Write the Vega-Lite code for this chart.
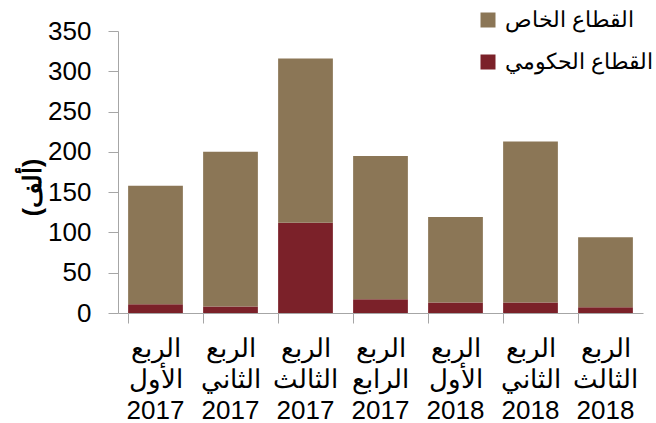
{
  "$schema": "https://vega.github.io/schema/vega-lite/v6.json",
  "autosize": "none",
  "width": 525,
  "height": 282,
  "padding": {"left": 118, "top": 31, "right": 13, "bottom": 110},
  "background": "white",
  "config": {
    "font": "Liberation Sans",
    "view": {"stroke": null},
    "axis": {"grid": false, "domainColor": "#A6A6A6", "tickColor": "#A6A6A6", "labelColor": "black", "labelFont": "Liberation Sans", "titleFont": "Liberation Sans", "titleColor": "black"}
  },
  "data": {
    "values": [
      {"q": "الربع|الأول|2017", "sector": "القطاع الحكومي", "v": 11},
      {"q": "الربع|الأول|2017", "sector": "القطاع الخاص", "v": 147},
      {"q": "الربع|الثاني|2017", "sector": "القطاع الحكومي", "v": 8},
      {"q": "الربع|الثاني|2017", "sector": "القطاع الخاص", "v": 192},
      {"q": "الربع|الثالث|2017", "sector": "القطاع الحكومي", "v": 112},
      {"q": "الربع|الثالث|2017", "sector": "القطاع الخاص", "v": 204},
      {"q": "الربع|الرابع|2017", "sector": "القطاع الحكومي", "v": 17},
      {"q": "الربع|الرابع|2017", "sector": "القطاع الخاص", "v": 178},
      {"q": "الربع|الأول|2018", "sector": "القطاع الحكومي", "v": 13},
      {"q": "الربع|الأول|2018", "sector": "القطاع الخاص", "v": 106},
      {"q": "الربع|الثاني|2018", "sector": "القطاع الحكومي", "v": 13},
      {"q": "الربع|الثاني|2018", "sector": "القطاع الخاص", "v": 200},
      {"q": "الربع|الثالث|2018", "sector": "القطاع الحكومي", "v": 7},
      {"q": "الربع|الثالث|2018", "sector": "القطاع الخاص", "v": 87}
    ]
  },
  "mark": {"type": "bar"},
  "encoding": {
    "x": {
      "field": "q", "type": "nominal", "sort": null,
      "scale": {"paddingInner": 0.27, "paddingOuter": 0.135},
      "axis": {
        "title": null, "labelAngle": 0, "bandPosition": 0,
        "tickSize": 10, "labelFontSize": 26, "labelPadding": 12,
        "labelLineHeight": 31, "labelBaseline": "top",
        "labelExpr": "split(datum.label, '|')"
      }
    },
    "y": {
      "field": "v", "type": "quantitative", "stack": "zero",
      "scale": {"domain": [0, 350], "nice": false},
      "axis": {
        "values": [0, 50, 100, 150, 200, 250, 300, 350],
        "title": "(ألف)", "titleFontSize": 25, "titleFontWeight": "bold",
        "titlePadding": 2, "titleY": 156,
        "tickSize": 10, "labelFontSize": 26, "labelPadding": 17
      }
    },
    "color": {
      "field": "sector", "type": "nominal",
      "scale": {"domain": ["القطاع الخاص", "القطاع الحكومي"], "range": ["#8B7656", "#7B2129"]},
      "legend": {
        "title": null, "orient": "none", "legendX": 359, "legendY": -22,
        "symbolType": "square", "symbolSize": 225, "symbolStrokeWidth": 0,
        "labelFontSize": 22, "labelOffset": 6, "rowPadding": 20, "labelColor": "black"
      }
    },
    "order": {"field": "sector", "sort": "ascending"}
  }
}
